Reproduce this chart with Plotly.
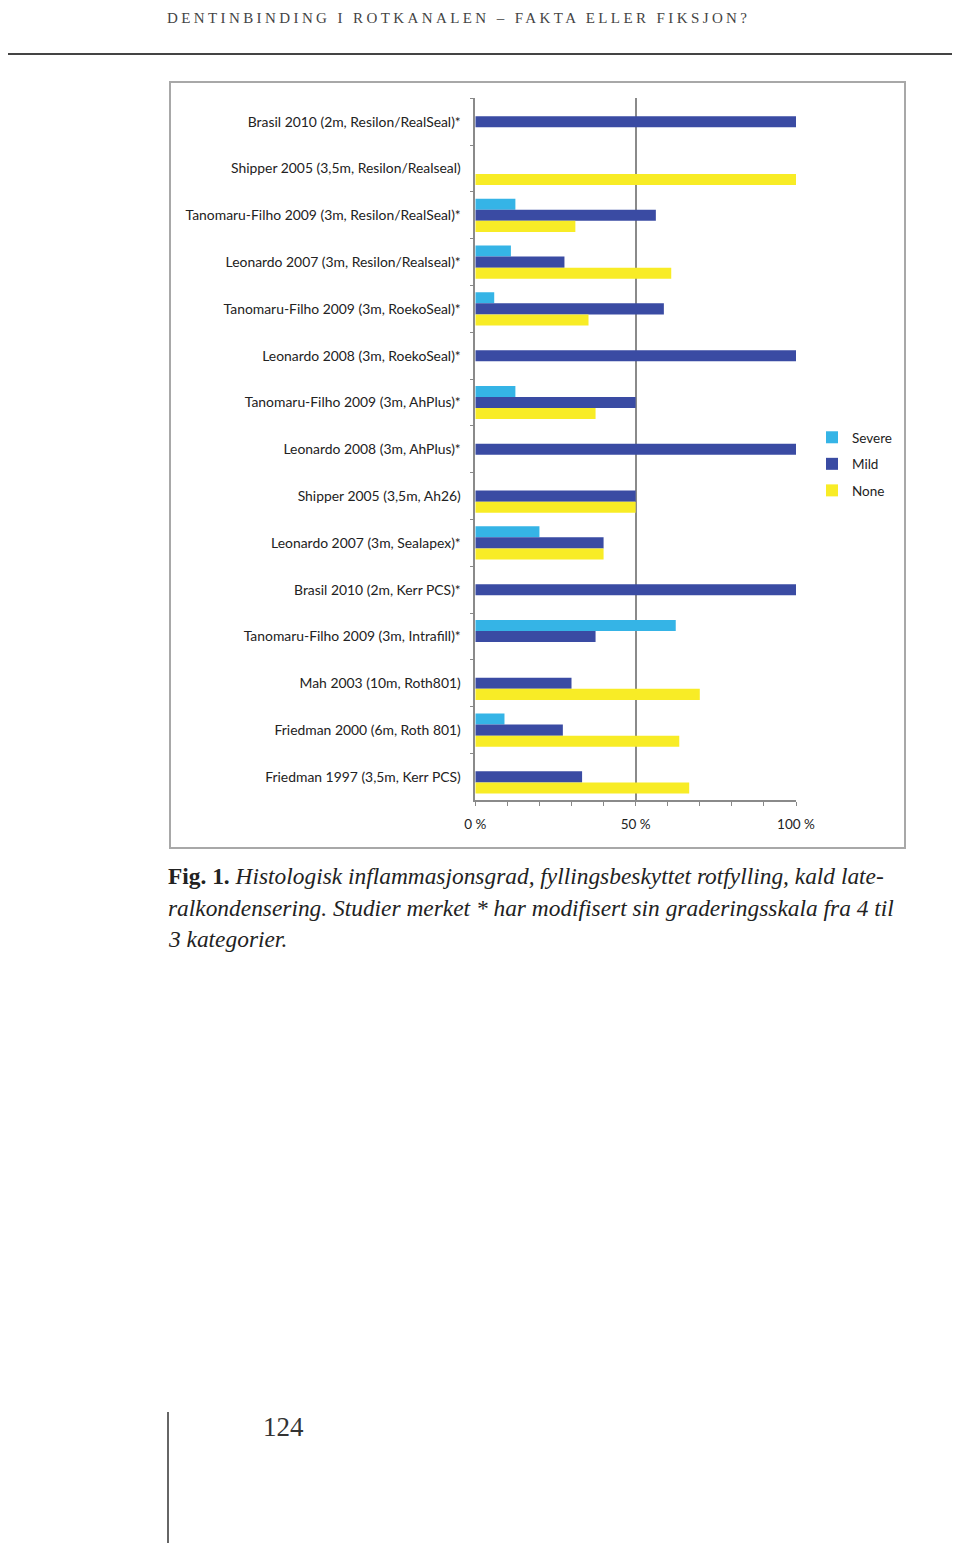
import plotly.graph_objects as go

studies = [
    "Brasil 2010 (2m, Resilon/RealSeal)*",
    "Shipper 2005 (3,5m, Resilon/Realseal)",
    "Tanomaru-Filho 2009 (3m, Resilon/RealSeal)*",
    "Leonardo 2007 (3m, Resilon/Realseal)*",
    "Tanomaru-Filho 2009 (3m, RoekoSeal)*",
    "Leonardo 2008 (3m, RoekoSeal)*",
    "Tanomaru-Filho 2009 (3m, AhPlus)*",
    "Leonardo 2008 (3m, AhPlus)*",
    "Shipper 2005 (3,5m, Ah26)",
    "Leonardo 2007 (3m, Sealapex)*",
    "Brasil 2010 (2m, Kerr PCS)*",
    "Tanomaru-Filho 2009 (3m, Intrafill)*",
    "Mah 2003 (10m, Roth801)",
    "Friedman 2000 (6m, Roth 801)",
    "Friedman 1997 (3,5m, Kerr PCS)",
]
severe = [0, 0, 12.5, 11.1, 5.9, 0, 12.5, 0, 0, 20, 0, 62.5, 0, 9.1, 0]
mild = [100, 0, 56.3, 27.8, 58.8, 100, 50, 100, 50, 40, 100, 37.5, 30, 27.3, 33.3]
none = [0, 100, 31.2, 61.1, 35.3, 0, 37.5, 0, 50, 40, 0, 0, 70, 63.6, 66.7]
x_ticks = [0, 50, 100]
x_tick_labels = ["0 %", "50 %", "100 %"]

header = "DENTINBINDING I ROTKANALEN – FAKTA ELLER FIKSJON?"
caption_lines = [
    "<b>Fig. 1.</b> <i>Histologisk inflammasjonsgrad, fyllingsbeskyttet rotfylling, kald late-</i>",
    "<i>ralkondensering. Studier merket * har modifisert sin graderingsskala fra 4 til</i>",
    "<i>3 kategorier.</i>",
]
page_number = "124"

# page is rendered with the browser's default 8px body margin
MARGIN = 8
W, H = 960 - 2 * MARGIN, 1551 - 2 * MARGIN
chart_font = "Lato, Open Sans, sans-serif"
serif = "Liberation Serif, DejaVu Serif, serif"


def px_x(v):
    return (v - MARGIN) / W


def px_y(v):
    return 1 - (v - MARGIN) / H


fig = go.Figure()
series = [("Severe", severe, "#35b4e6"), ("Mild", mild, "#3a4ba3"), ("None", none, "#f8ec26")]
for name, vals, col in series:
    fig.add_trace(go.Bar(
        y=studies, x=vals, name=name, orientation="h",
        marker=dict(color=col, line=dict(width=0)),
        legendgroup=name,
    ))

fig.update_layout(
    width=W, height=H,
    margin=dict(l=0, r=0, t=0, b=0, pad=0, autoexpand=False),
    paper_bgcolor="white", plot_bgcolor="white",
    barmode="group", bargap=0.29, bargroupgap=0,
    showlegend=True,
    legend=dict(
        x=px_x(812), y=px_y(422), xanchor="left", yanchor="top",
        font=dict(family=chart_font, size=13.5, color="#222"),
        traceorder="grouped", tracegroupgap=6, itemwidth=30,
        bgcolor="rgba(0,0,0,0)",
    ),
    xaxis=dict(
        domain=[px_x(475.3), px_x(796)],
        range=[0, 100],
        automargin=False,
        tickmode="array", tickvals=x_ticks, ticktext=x_tick_labels,
        ticks="outside", ticklen=4, tickcolor="#888", tickwidth=1,
        minor=dict(dtick=10, ticks="outside", ticklen=4, tickcolor="#888", showgrid=False),
        showgrid=True, gridcolor="#8a8a8a", gridwidth=1.5,
        showline=True, linecolor="#8a8a8a", linewidth=1.5,
        zeroline=False,
        tickfont=dict(family=chart_font, size=13.5, color="#222"),
        ticklabelstandoff=7,
        fixedrange=True,
    ),
    yaxis=dict(
        domain=[px_y(800.3), px_y(98.3)],
        autorange="reversed",
        automargin=False,
        type="category",
        tickson="boundaries",
        ticks="outside", ticklen=4, tickcolor="#888", tickwidth=1,
        showline=True, linecolor="#8a8a8a", linewidth=1.5,
        showgrid=False, zeroline=False,
        tickfont=dict(family=chart_font, size=13.9, color="#222"),
        ticklabelstandoff=10,
    ),
    shapes=[
        dict(type="rect", xref="paper", yref="paper",
             x0=px_x(170), x1=px_x(905), y0=px_y(848), y1=px_y(82),
             line=dict(color="#a8a8a8", width=2)),
        dict(type="line", xref="paper", yref="paper",
             x0=px_x(8), x1=px_x(952), y0=px_y(54), y1=px_y(54),
             line=dict(color="#444", width=2)),
        dict(type="line", xref="paper", yref="paper",
             x0=px_x(168), x1=px_x(168), y0=px_y(1412), y1=px_y(1543),
             line=dict(color="#333", width=1.5)),
    ],
)

annotations = [
    dict(text='<span style="letter-spacing:3.4px">' + header + '</span>',
         x=px_x(458), y=1, xref="paper", yref="paper",
         xanchor="center", yanchor="top", showarrow=False,
         font=dict(family=serif, size=15, color="#444")),
    dict(text=page_number, x=px_x(261), y=px_y(1427), xref="paper", yref="paper",
         xanchor="left", yanchor="middle", showarrow=False,
         font=dict(family=serif, size=27, color="#333")),
]
for line, yy in zip(caption_lines, [876, 908, 939]):
    annotations.append(dict(
        text=line, x=px_x(166), y=px_y(yy), xref="paper", yref="paper",
        xanchor="left", yanchor="middle", showarrow=False,
        font=dict(family=serif, size=23.4, color="#222"),
    ))
fig.update_layout(annotations=annotations)

fig.write_html("out.html")
